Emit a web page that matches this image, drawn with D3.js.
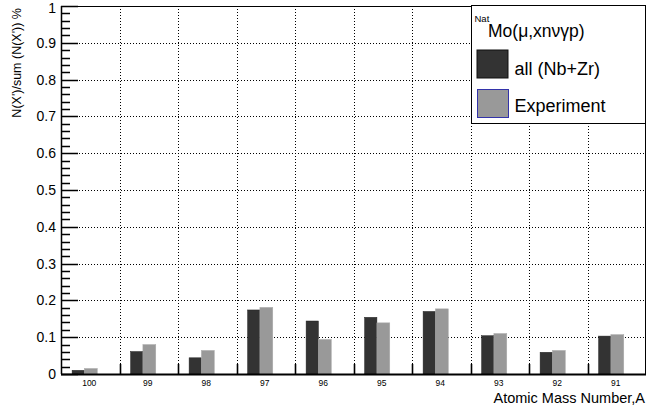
<!DOCTYPE html>
<html><head><meta charset="utf-8">
<script src="https://cdn.jsdelivr.net/npm/d3@7"></script>
<style>body{margin:0;background:#fff}svg{display:block}text{font-family:"Liberation Sans",Arial,sans-serif}</style>
</head><body>
<svg id="c" width="647" height="409"></svg>
<script>
const categories = ["100","99","98","97","96","95","94","93","92","91"];
const allNbZr = [0.010,0.061,0.044,0.174,0.144,0.154,0.170,0.104,0.059,0.103];
const experiment = [0.015,0.080,0.064,0.181,0.094,0.139,0.177,0.110,0.064,0.107];
const yTicks = [0,0.1,0.2,0.3,0.4,0.5,0.6,0.7,0.8,0.9,1];
const seriesNames = ["all (Nb+Zr)","Experiment"];

const svg = d3.select("#c");
const L=61, R=646, T=6, B=374;
const x = d3.scaleBand().domain(categories).range([L,R]).paddingInner(0).paddingOuter(0);
const y = d3.scaleLinear().domain([0,1]).range([B,T]);
const bw = x.bandwidth();

// grid
const g = svg.append("g");
g.selectAll("line.hg").data(yTicks.filter(d=>d>0&&d<1)).enter().append("line")
  .attr("x1",L).attr("x2",R).attr("y1",d=>Math.round(y(d))+0.5).attr("y2",d=>Math.round(y(d))+0.5)
  .attr("stroke","#000").attr("stroke-width",1).attr("stroke-dasharray","1,2");
g.selectAll("line.vg").data(categories.slice(1)).enter().append("line")
  .attr("x1",d=>Math.round(x(d))+0.5).attr("x2",d=>Math.round(x(d))+0.5).attr("y1",T).attr("y2",B)
  .attr("stroke","#000").attr("stroke-width",1).attr("stroke-dasharray","1,2");

// bars
svg.append("g").selectAll("rect").data(categories).enter().append("rect")
  .attr("x",(d)=>x(d)+bw*0.19).attr("width",bw*0.21)
  .attr("y",(d,i)=>y(allNbZr[i])).attr("height",(d,i)=>B-y(allNbZr[i]))
  .attr("fill","#333333").attr("stroke","#222").attr("stroke-width",0.5);
svg.append("g").selectAll("rect").data(categories).enter().append("rect")
  .attr("x",(d)=>x(d)+bw*0.40).attr("width",bw*0.22)
  .attr("y",(d,i)=>y(experiment[i])).attr("height",(d,i)=>B-y(experiment[i]))
  .attr("fill","#999999").attr("stroke","#aaa").attr("stroke-width",0.5);

// frame
svg.append("rect").attr("x",L+0.5).attr("y",T+0.5).attr("width",R-L-1).attr("height",B-T)
  .attr("fill","none").attr("stroke","#000").attr("stroke-width",1);
svg.append("line").attr("x1",L).attr("x2",R).attr("y1",B+0.5).attr("y2",B+0.5).attr("stroke","#000").attr("stroke-width",2);
svg.append("line").attr("x1",L+0.5).attr("x2",L+0.5).attr("y1",T).attr("y2",B).attr("stroke","#000").attr("stroke-width",1.5);

// y axis ticks
const yMinor = d3.range(0,51).map(i=>i/50);
const tickPath = yMinor.map((d,i)=>`M${L},${Math.round(y(d))+0.5}h${i%5===0?17:9}`).join("");
svg.append("path").attr("d",tickPath).attr("fill","none").attr("stroke","#000").attr("stroke-width",1.5);
svg.append("g").selectAll("text").data(yTicks).enter().append("text")
  .attr("x",56).attr("y",d=>Math.max(y(d)+5,12.5)).attr("text-anchor","end")
  .attr("font-size",14).text(d=> d===0?"0":d===1?"1":d.toFixed(1));

// x axis ticks
const xTickPath = categories.slice(1).map(d=>`M${Math.round(x(d))+0.5},${B}v-10`).join("");
svg.append("path").attr("d",xTickPath).attr("fill","none").attr("stroke","#000").attr("stroke-width",1.6);
svg.append("g").selectAll("text").data(categories).enter().append("text")
  .attr("x",d=>x(d)+bw/2-1).attr("y",386).attr("text-anchor","middle")
  .attr("font-size",8.5).text(d=>d);

// titles
svg.append("text").attr("x",645).attr("y",403).attr("text-anchor","end").attr("font-size",14.5)
  .text("Atomic Mass Number,A");
svg.append("text").attr("transform","translate(21,8) rotate(-90)").attr("text-anchor","end")
  .attr("font-size",12.5).text("N(X')/sum (N(X')) %");

// legend
const lg = svg.append("g");
lg.append("rect").attr("x",471.5).attr("y",5.5).attr("width",174).attr("height",118)
  .attr("fill","#fff").attr("stroke","#000").attr("stroke-width",1);
lg.append("text").attr("x",474.5).attr("y",22.3).attr("font-size",9.5).text("Nat");
lg.append("text").attr("x",488).attr("y",36.7).attr("font-size",17.5).text("Mo(μ,xnνγp)");
lg.append("rect").attr("x",477).attr("y",50).attr("width",31).attr("height",28)
  .attr("fill","#333333").attr("stroke","#111").attr("stroke-width",1);
lg.append("rect").attr("x",477.5).attr("y",89.5).attr("width",31).attr("height",28)
  .attr("fill","#999999").attr("stroke","#3333aa").attr("stroke-width",1);
lg.append("text").attr("x",514.5).attr("y",75).attr("font-size",18).text(seriesNames[0]);
lg.append("text").attr("x",514.5).attr("y",111.5).attr("font-size",18).text(seriesNames[1]);
</script>
</body></html>
